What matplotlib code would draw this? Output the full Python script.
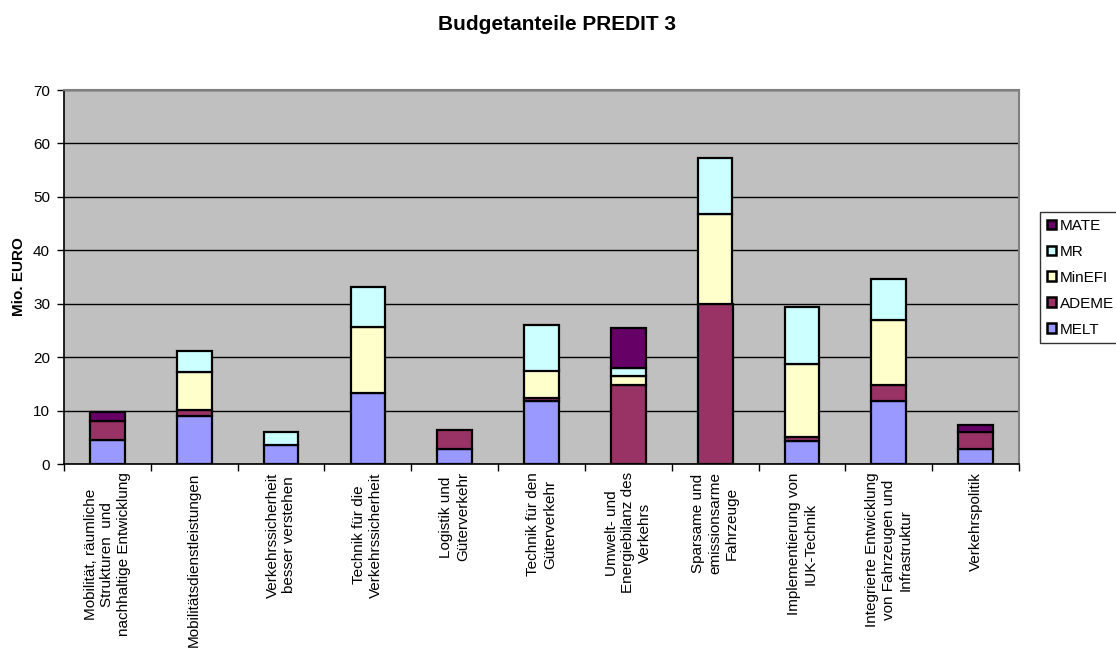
import matplotlib
matplotlib.use("Agg")
import matplotlib.pyplot as plt
import numpy as np
from matplotlib.patches import Patch

plt.rcParams['font.family'] = ['Liberation Sans', 'DejaVu Sans']

categories = [
    "Mobilität, räumliche\nStrukturen  und\nnachhaltige Entwicklung",
    "Mobilitätsdienstleistungen",
    "Verkehrssicherheit\nbesser verstehen",
    "Technik für die\nVerkehrssicherheit",
    "Logistik und\nGüterverkehr",
    "Technik für den\nGüterverkehr",
    "Umwelt- und\nEnergiebilanz des\nVerkehrs",
    "Sparsame und\nemissionsarme\nFahrzeuge",
    "Implementierung von\nIUK-Technik",
    "Integrierte Entwicklung\nvon Fahrzeugen und\nInfrastruktur",
    "Verkehrspolitik",
]
MELT   = [4.4, 8.9, 3.6, 13.3, 2.9, 11.8, 0.0, 0.0, 4.3, 11.8, 2.8]
ADEME  = [3.7, 1.3, 0.0, 0.0, 3.5, 0.5, 14.8, 29.9, 0.8, 3.0, 3.1]
MinEFI = [0.0, 7.1, 0.0, 12.3, 0.0, 5.2, 1.7, 16.8, 13.6, 12.2, 0.0]
MR     = [0.0, 3.9, 2.4, 7.6, 0.0, 8.6, 1.4, 10.6, 10.7, 7.6, 0.0]
MATE   = [1.6, 0.0, 0.0, 0.0, 0.0, 0.0, 7.6, 0.0, 0.0, 0.0, 1.4]

series = [("MELT", MELT, "#9999FF"), ("ADEME", ADEME, "#993366"),
          ("MinEFI", MinEFI, "#FFFFCC"), ("MR", MR, "#CCFFFF"),
          ("MATE", MATE, "#660066")]

fig = plt.figure(figsize=(11.16, 6.5), dpi=100)
ax = fig.add_axes([64/1116, 1-464/650, (1019-64)/1116, (464-90)/650])
ax.set_facecolor("#C0C0C0")

x = np.arange(len(categories))
bottom = np.zeros(len(categories))
for name, vals, col in series:
    v = np.array(vals)
    mask = v > 0
    ax.bar(x[mask], v[mask], width=0.4, bottom=bottom[mask], color=col,
           edgecolor="black", linewidth=1.6, zorder=3)
    bottom += v

ax.set_xlim(-0.5, len(categories) - 0.5)
ax.set_ylim(0, 70)
ax.set_yticks(np.arange(0, 71, 10))
ax.yaxis.grid(True, color="black", linewidth=1.0, zorder=1)
ax.set_axisbelow(True)

ax.set_xticks(x)
ax.set_xticklabels(categories, rotation=90, ha="center", va="top",
                   multialignment="center", fontsize=11, linespacing=1.25)
ax.tick_params(axis="x", which="major", length=0, pad=6)
ax.set_xticks(np.arange(-0.5, len(categories), 1.0), minor=True)
ax.tick_params(axis="x", which="minor", length=5, width=1, direction="out")
ax.tick_params(axis="y", length=5, width=1, direction="out", labelsize=11, pad=5)

for s in ["left", "bottom"]:
    ax.spines[s].set_color("black")
    ax.spines[s].set_linewidth(1.2)
for s in ["top", "right"]:
    ax.spines[s].set_color("#808080")
    ax.spines[s].set_linewidth(1.5)

ax.set_ylabel("Mio. EURO", fontsize=11, fontweight="bold", labelpad=5)
fig.text(557/1116, 1-24/650, "Budgetanteile PREDIT 3", ha="center", va="center",
         fontsize=15, fontweight="bold")

handles = [Patch(facecolor=col, edgecolor="black", linewidth=1.8, label=name)
           for name, vals, col in reversed(series)]
leg = fig.legend(handles=handles, loc="upper left",
                 bbox_to_anchor=(1040/1116, 1-212/650), fontsize=11,
                 frameon=True, fancybox=False, edgecolor="black",
                 handlelength=0.6, handleheight=0.6, handletextpad=0.25,
                 labelspacing=0.78, borderpad=0.45, borderaxespad=0)
leg.get_frame().set_linewidth(1.0)

fig.savefig("out.png", dpi=100)
